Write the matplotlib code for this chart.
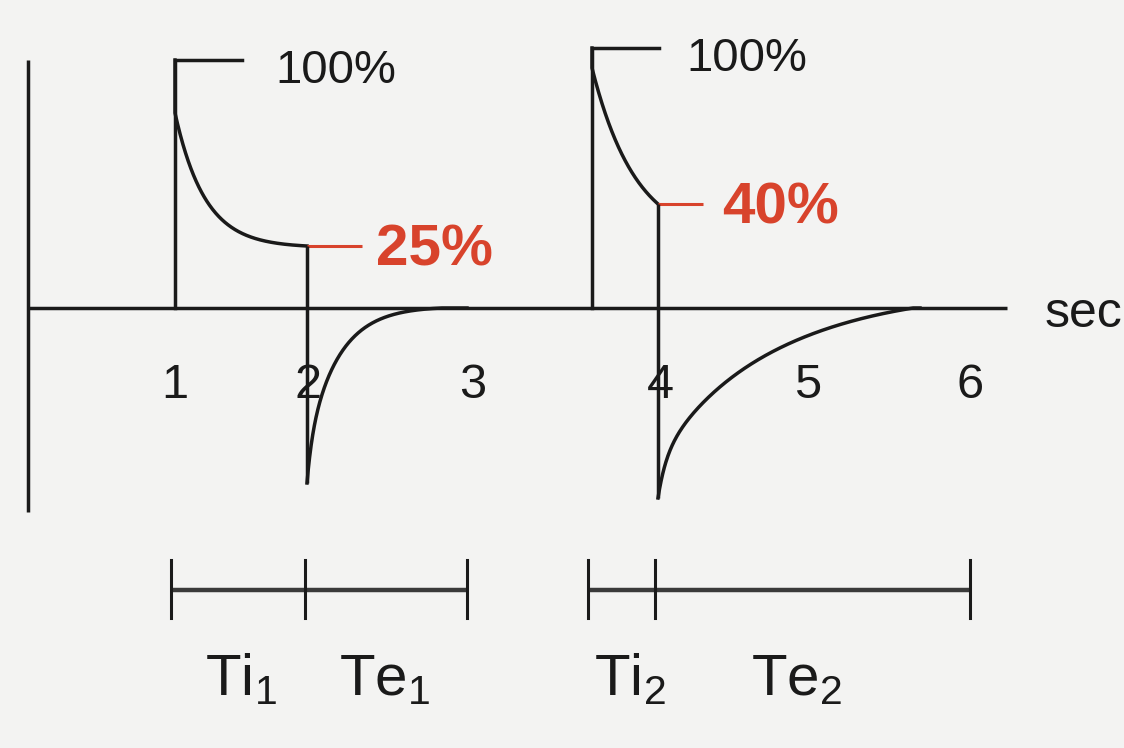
import numpy as np
import matplotlib
matplotlib.use("Agg")
import matplotlib.pyplot as plt

plt.rcParams['font.family'] = ['Liberation Sans', 'DejaVu Sans']
plt.rcParams['mathtext.fontset'] = 'custom'
plt.rcParams['mathtext.rm'] = 'Liberation Sans'
plt.rcParams['mathtext.it'] = 'Liberation Sans'
plt.rcParams['mathtext.bf'] = 'Liberation Sans:bold'

# diagram units: x along the time axis, y = pressure (0 on the time axis)
breath_start = [175, 592]        # start of inspiration
breath_end = [307, 658]          # end of inspiration
breath_peak = [248, 260]         # 100 % level
plateau_pct = [25, 40]           # end-inspiratory level, %
plateau_labels = ['25%', '40%']
insp_floor = [60, 60]
insp_amp = [135, 180]
insp_tau = [30, 45]

exp_dip = [175, 190]             # depth below baseline at start of expiration
exp_fast_frac = [0.2, 0.2]
exp_fast_tau = [5, 8]
exp_tau = [30, 95]
exp_len = [135, 255]
exp_stop = [467, 920]

tick_pos = [175, 308, 473, 660, 808, 970]
tick_labels = ['1', '2', '3', '4', '5', '6']

# Ti / Te bars below the chart
bar_marks = [[171, 305, 467], [588, 655, 970]]
bar_labels = [['Ti$_{1}$', 'Te$_{1}$'], ['Ti$_{2}$', 'Te$_{2}$']]
bar_label_x = [[241, 385], [630, 797]]

red = '#d8432c'
ink = '#1a1a1a'
lw = 2.5

fig = plt.figure(figsize=(11.24, 7.48), dpi=100)
fig.patch.set_facecolor('#f3f3f2')
ax = fig.add_axes([0, 0, 1, 1])
ax.set_facecolor('#f3f3f2')
ax.set_xlim(0, 1124)
ax.set_ylim(-440, 308)
ax.axis('off')

# axes of the diagram
ax.plot([28, 28], [-204, 248], color=ink, lw=lw, solid_capstyle='butt')
ax.plot([28, 1007], [0, 0], color=ink, lw=lw, solid_capstyle='butt')
ax.text(1045, -6, 'sec', fontsize=36, color=ink, ha='left', va='center')

for x, lab in zip(tick_pos, tick_labels):
    ax.text(x, -78, lab, fontsize=35, color=ink, ha='center', va='center')

text_gap_100 = [100, 94]
text_gap_pct = [69, 64]
red_len = [55, 45]

for i in range(2):
    x0, x1, pk = breath_start[i], breath_end[i], breath_peak[i]
    plat = pk * plateau_pct[i] / 100
    # square rise and 100 % marker
    ax.plot([x0, x0, x0 + 67], [0, pk, pk], color=ink, lw=lw,
            solid_joinstyle='miter')
    ax.text(x0 + text_gap_100[i], pk - 11, '100%', fontsize=34, color=ink,
            ha='left', va='center')
    # decaying inspiratory pressure
    xs = np.linspace(x0, x1, 300)
    ys = insp_floor[i] + insp_amp[i] * np.exp(-(xs - x0) / insp_tau[i])
    ys += (plat - ys[-1]) * (xs - x0) / (x1 - x0)
    ax.plot(np.r_[x0, xs], np.r_[pk, ys], color=ink, lw=lw)
    # plateau marker in red
    ax.plot([x1, x1 + red_len[i]], [plat, plat], color=red, lw=lw - 0.3,
            solid_capstyle='butt')
    ax.text(x1 + text_gap_pct[i], plat - 5, plateau_labels[i], fontsize=42,
            fontweight='bold', color=red, ha='left', va='center')
    # drop to expiration and exponential return to baseline
    ax.plot([x1, x1], [plat, -exp_dip[i]], color=ink, lw=lw,
            solid_capstyle='butt')
    xe = np.linspace(x1, exp_stop[i], 500)
    dx = xe - x1
    s = np.clip(dx / exp_len[i], 0, 1)
    a = exp_fast_frac[i]
    depth = exp_dip[i] * (a * np.exp(-dx / exp_fast_tau[i])
                          + (1 - a) * np.exp(-dx / exp_tau[i])) * (1 - s ** 4)
    ax.plot(xe, -depth, color=ink, lw=lw)

# Ti / Te bars
for marks, labs, lx in zip(bar_marks, bar_labels, bar_label_x):
    ax.plot([marks[0], marks[-1]], [-282, -282], color='#3a3a3a', lw=3.2,
            solid_capstyle='butt')
    for m in marks:
        ax.plot([m, m], [-252, -310], color=ink, lw=2.2)
    for x, t in zip(lx, labs):
        ax.text(x, -387, t, fontsize=42, color=ink, ha='center',
                va='baseline')

fig.savefig('out.png', dpi=100, facecolor=fig.get_facecolor())
